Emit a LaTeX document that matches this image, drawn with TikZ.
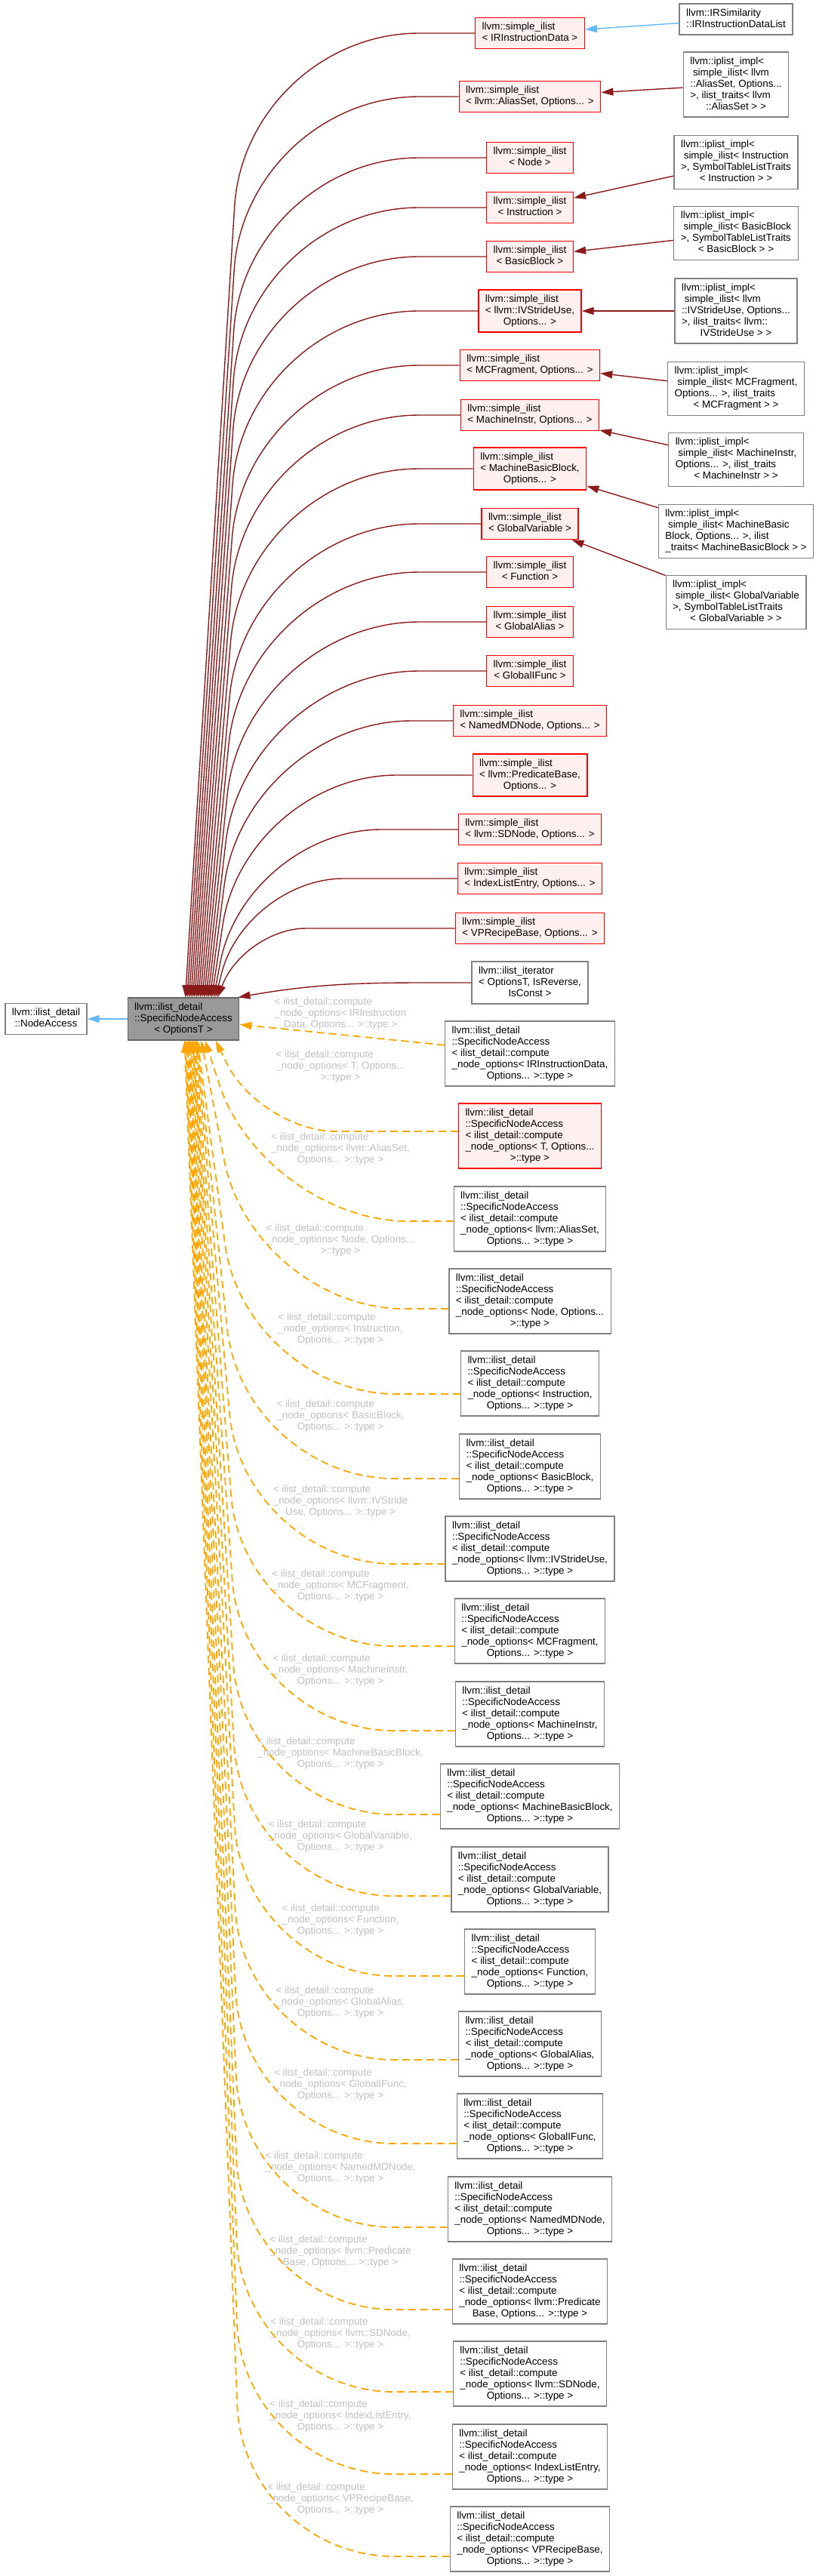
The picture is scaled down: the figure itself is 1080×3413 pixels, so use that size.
\documentclass[tikz,border=0pt]{standalone}
\usepackage{fontspec}
\setmainfont{Liberation Sans}
\usepackage{tikz}
\usetikzlibrary{arrows.meta, calc}
\definecolor{privred}{HTML}{8B1A1A}
\definecolor{pubblue}{HTML}{63B8FF}
\definecolor{tmplorange}{HTML}{FFA500}
\definecolor{lblgray}{HTML}{BFBFBF}
\definecolor{silfill}{HTML}{FFF0F0}
\definecolor{boxgray}{HTML}{808080}
\definecolor{basefill}{HTML}{999999}
\definecolor{basedraw}{HTML}{666666}
\tikzset{
  silbox/.style={rectangle, draw=red, fill=silfill, line width=1.3pt, inner xsep=9pt, inner ysep=5.5pt},
  plainbox/.style={rectangle, draw=boxgray, fill=white, line width=1.3pt, inner xsep=9pt, inner ysep=5.5pt},
  basebox/.style={rectangle, draw=basedraw, fill=basefill, line width=1.3pt, inner xsep=9pt, inner ysep=5.5pt},
  tlabel/.style={text=lblgray, inner sep=0pt},
  privarrow/.style={draw=privred, line width=1.4pt, -{Triangle[length=16pt, width=10pt]}},
  pubarrow/.style={draw=pubblue, line width=1.4pt, -{Triangle[length=16pt, width=10pt]}},
  tmplarrow/.style={draw=tmplorange, line width=1.8pt, dash pattern=on 10pt off 6pt, -{Triangle[length=16pt, width=10pt]}}
}
\newcommand{\dlabel}[2]{\begin{tabular}{@{}l@{}}#1\\\multicolumn{1}{@{}c@{}}{#2}\end{tabular}}
\newcommand{\snah}{llvm::ilist\_detail\\::SpecificNodeAccess\\}
\newcommand{\cno}{< ilist\_detail::compute\\\_node\_options< }

\begin{document}
\begin{tikzpicture}[x=1pt, y=1pt, every node/.style={font=\fontsize{13.4}{15}\selectfont}]
    \useasboundingbox (0,0) rectangle (1080,-3413);

    % ==========================================
    % 1. Base classes
    % ==========================================
    \node[basebox] (sna) at (243,-1350) {\dlabel{llvm::ilist\_detail\\::SpecificNodeAccess}{< OptionsT >}};
    \node[plainbox] (nacc) at (61,-1350) {\dlabel{llvm::ilist\_detail}{::NodeAccess}};

    % ==========================================
    % 2. simple_ilist column
    % ==========================================
    \node[silbox] (sIRD) at (702,-44) {\dlabel{llvm::simple\_ilist}{< IRInstructionData >}};
    \node[silbox] (sAlias) at (702,-128) {\dlabel{llvm::simple\_ilist}{< llvm::AliasSet, Options... >}};
    \node[silbox] (sNode) at (702,-209) {\dlabel{llvm::simple\_ilist}{< Node >}};
    \node[silbox] (sInstr) at (702,-275) {\dlabel{llvm::simple\_ilist}{< Instruction >}};
    \node[silbox] (sBB) at (702,-340) {\dlabel{llvm::simple\_ilist}{< BasicBlock >}};
    \node[silbox] (sIVS) at (702,-412) {\dlabel{llvm::simple\_ilist\\< llvm::IVStrideUse,}{Options... >}};
    \node[silbox] (sMCF) at (702,-484) {\dlabel{llvm::simple\_ilist}{< MCFragment, Options... >}};
    \node[silbox] (sMI) at (702,-550) {\dlabel{llvm::simple\_ilist}{< MachineInstr, Options... >}};
    \node[silbox] (sMBB) at (702,-621) {\dlabel{llvm::simple\_ilist\\< MachineBasicBlock,}{Options... >}};
    \node[silbox] (sGV) at (702,-694) {\dlabel{llvm::simple\_ilist}{< GlobalVariable >}};
    \node[silbox] (sFn) at (702,-758) {\dlabel{llvm::simple\_ilist}{< Function >}};
    \node[silbox] (sGA) at (702,-824) {\dlabel{llvm::simple\_ilist}{< GlobalAlias >}};
    \node[silbox] (sGIF) at (702,-889) {\dlabel{llvm::simple\_ilist}{< GlobalIFunc >}};
    \node[silbox] (sNMD) at (702,-955) {\dlabel{llvm::simple\_ilist}{< NamedMDNode, Options... >}};
    \node[silbox] (sPB) at (702,-1027) {\dlabel{llvm::simple\_ilist\\< llvm::PredicateBase,}{Options... >}};
    \node[silbox] (sSD) at (702,-1099) {\dlabel{llvm::simple\_ilist}{< llvm::SDNode, Options... >}};
    \node[silbox] (sILE) at (702,-1164) {\dlabel{llvm::simple\_ilist}{< IndexListEntry, Options... >}};
    \node[silbox] (sVPR) at (702,-1230) {\dlabel{llvm::simple\_ilist}{< VPRecipeBase, Options... >}};
    \node[plainbox] (iter) at (702,-1302) {\dlabel{llvm::ilist\_iterator\\< OptionsT, IsReverse,}{IsConst >}};

    % ==========================================
    % 3. iplist_impl column
    % ==========================================
    \node[plainbox] (irsim) at (975,-25.5) {\dlabel{llvm::IRSimilarity}{::IRInstructionDataList}};
    \node[plainbox] (pAlias) at (975,-112) {\dlabel{llvm::iplist\_impl<\\\ simple\_ilist< llvm\\::AliasSet, Options...\\>, ilist\_traits< llvm}{::AliasSet > >}};
    \node[plainbox] (pInstr) at (975,-215) {\dlabel{llvm::iplist\_impl<\\\ simple\_ilist< Instruction\\>, SymbolTableListTraits}{< Instruction > >}};
    \node[plainbox] (pBB) at (975,-309) {\dlabel{llvm::iplist\_impl<\\\ simple\_ilist< BasicBlock\\>, SymbolTableListTraits}{< BasicBlock > >}};
    \node[plainbox] (pIVS) at (975,-412) {\dlabel{llvm::iplist\_impl<\\\ simple\_ilist< llvm\\::IVStrideUse, Options...\\>, ilist\_traits< llvm::}{IVStrideUse > >}};
    \node[plainbox] (pMCF) at (975,-515) {\dlabel{llvm::iplist\_impl<\\\ simple\_ilist< MCFragment,\\Options... >, ilist\_traits}{< MCFragment > >}};
    \node[plainbox] (pMI) at (975,-609) {\dlabel{llvm::iplist\_impl<\\\ simple\_ilist< MachineInstr,\\Options... >, ilist\_traits}{< MachineInstr > >}};
    \node[plainbox] (pMBB) at (975,-704) {\dlabel{llvm::iplist\_impl<\\\ simple\_ilist< MachineBasic\\Block, Options... >, ilist}{\_traits< MachineBasicBlock > >}};
    \node[plainbox] (pGV) at (975,-798) {\dlabel{llvm::iplist\_impl<\\\ simple\_ilist< GlobalVariable\\>, SymbolTableListTraits}{< GlobalVariable > >}};

    % ==========================================
    % 4. SpecificNodeAccess instances
    % ==========================================
    \node[plainbox] (aIRD) at (702,-1396) {\dlabel{\snah\cno IRInstructionData,}{Options... >::type >}};
    \node[silbox] (aT) at (702,-1505) {\dlabel{\snah\cno T, Options...}{>::type >}};
    \node[plainbox] (aAlias) at (702,-1615) {\dlabel{\snah\cno llvm::AliasSet,}{Options... >::type >}};
    \node[plainbox] (aNode) at (702,-1724) {\dlabel{\snah\cno Node, Options...}{>::type >}};
    \node[plainbox] (aInstr) at (702,-1833) {\dlabel{\snah\cno Instruction,}{Options... >::type >}};
    \node[plainbox] (aBB) at (702,-1943) {\dlabel{\snah\cno BasicBlock,}{Options... >::type >}};
    \node[plainbox] (aIVS) at (702,-2052) {\dlabel{\snah\cno llvm::IVStrideUse,}{Options... >::type >}};
    \node[plainbox] (aMCF) at (702,-2161) {\dlabel{\snah\cno MCFragment,}{Options... >::type >}};
    \node[plainbox] (aMI) at (702,-2271) {\dlabel{\snah\cno MachineInstr,}{Options... >::type >}};
    \node[plainbox] (aMBB) at (702,-2380) {\dlabel{\snah\cno MachineBasicBlock,}{Options... >::type >}};
    \node[plainbox] (aGV) at (702,-2490) {\dlabel{\snah\cno GlobalVariable,}{Options... >::type >}};
    \node[plainbox] (aFn) at (702,-2599) {\dlabel{\snah\cno Function,}{Options... >::type >}};
    \node[plainbox] (aGA) at (702,-2708) {\dlabel{\snah\cno GlobalAlias,}{Options... >::type >}};
    \node[plainbox] (aGIF) at (702,-2817) {\dlabel{\snah\cno GlobalIFunc,}{Options... >::type >}};
    \node[plainbox] (aNMD) at (702,-2927) {\dlabel{\snah\cno NamedMDNode,}{Options... >::type >}};
    \node[plainbox] (aPB) at (702,-3036) {\dlabel{\snah\cno llvm::Predicate}{Base, Options... >::type >}};
    \node[plainbox] (aSD) at (702,-3145) {\dlabel{\snah\cno llvm::SDNode,}{Options... >::type >}};
    \node[plainbox] (aILE) at (702,-3255) {\dlabel{\snah\cno IndexListEntry,}{Options... >::type >}};
    \node[plainbox] (aVPR) at (702,-3364) {\dlabel{\snah\cno VPRecipeBase,}{Options... >::type >}};

    % Edge labels (template arguments)
    \node[tlabel] (lIRD) at (451,-1343) {\dlabel{\cno IRInstruction}{Data, Options... >::type >}};
    \node[tlabel] (lT) at (451,-1413) {\dlabel{\cno T, Options...}{>::type >}};
    \node[tlabel] (lAlias) at (451,-1522) {\dlabel{\cno llvm::AliasSet,}{Options... >::type >}};
    \node[tlabel] (lNode) at (451,-1643) {\dlabel{\cno Node, Options...}{>::type >}};
    \node[tlabel] (lInstr) at (451,-1761) {\dlabel{\cno Instruction,}{Options... >::type >}};
    \node[tlabel] (lBB) at (451,-1876) {\dlabel{\cno BasicBlock,}{Options... >::type >}};
    \node[tlabel] (lIVS) at (451,-1989) {\dlabel{\cno llvm::IVStride}{Use, Options... >::type >}};
    \node[tlabel] (lMCF) at (451,-2101) {\dlabel{\cno MCFragment,}{Options... >::type >}};
    \node[tlabel] (lMI) at (451,-2213) {\dlabel{\cno MachineInstr,}{Options... >::type >}};
    \node[tlabel] (lMBB) at (451,-2323) {\dlabel{\cno MachineBasicBlock,}{Options... >::type >}};
    \node[tlabel] (lGV) at (451,-2433) {\dlabel{\cno GlobalVariable,}{Options... >::type >}};
    \node[tlabel] (lFn) at (451,-2544) {\dlabel{\cno Function,}{Options... >::type >}};
    \node[tlabel] (lGA) at (451,-2653) {\dlabel{\cno GlobalAlias,}{Options... >::type >}};
    \node[tlabel] (lGIF) at (451,-2762) {\dlabel{\cno GlobalIFunc,}{Options... >::type >}};
    \node[tlabel] (lNMD) at (451,-2872) {\dlabel{\cno NamedMDNode,}{Options... >::type >}};
    \node[tlabel] (lPB) at (451,-2983) {\dlabel{\cno llvm::Predicate}{Base, Options... >::type >}};
    \node[tlabel] (lSD) at (451,-3092) {\dlabel{\cno llvm::SDNode,}{Options... >::type >}};
    \node[tlabel] (lILE) at (451,-3201) {\dlabel{\cno IndexListEntry,}{Options... >::type >}};
    \node[tlabel] (lVPR) at (451,-3311) {\dlabel{\cno VPRecipeBase,}{Options... >::type >}};

    % ==========================================
    % 5. Connectors
    % ==========================================
    \draw[pubarrow] (irsim) -- (sIRD);
    \draw[pubarrow] (sna) -- (nacc);

    % iplist_impl -> simple_ilist
    \foreach \p/\s in {pAlias/sAlias, pInstr/sInstr, pBB/sBB, pIVS/sIVS, pMCF/sMCF, pMI/sMI, pMBB/sMBB, pGV/sGV} {
        \draw[privarrow] (\p) -- (\s);
    }

    % simple_ilist -> SpecificNodeAccess (top)
    \coordinate (rk) at (325,0);
    \foreach \n/\ex/\r in {sIRD/77/230, sAlias/79.5/230, sNode/82/230, sInstr/84.5/230,
        sBB/87/230, sIVS/89.5/230, sMCF/92/230, sMI/94.5/230, sMBB/97/230, sGV/99.5/230,
        sFn/102/230, sGA/104.5/230, sGIF/107/230, sNMD/109.5/220, sPB/112/200,
        sSD/114.5/180, sILE/117/130, sVPR/119.5/80} {
        \draw[privarrow, rounded corners=\r pt] (\n.west) -- (\n.west -| rk) -- ([xshift=\ex pt]sna.north west);
    }
    \draw[privarrow] (iter.west) to[out=180, in=10] ([xshift=-2pt]sna.north east);

    % SpecificNodeAccess instances -> SpecificNodeAccess (bottom)
    \draw[tmplarrow] (aIRD) -- (sna);
    \foreach \n/\dy/\cx/\ex/\r in {aT/6/345/117/100, aAlias/-3/350/103/190, aNode/-10/335/98/200,
        aInstr/-14/325/93/200, aBB/-16/322/92/200, aIVS/-20/322/91/200, aMCF/-20/322/89.5/200,
        aMI/-22/322/88/200, aMBB/-24/322/87/200, aGV/-22/322/86/200, aFn/-19/322/84.5/200,
        aGA/-21/322/83/200, aGIF/-23/322/82/200, aNMD/-24/322/81/200, aPB/-24/322/79.5/200,
        aSD/-24/322/78.5/200, aILE/-23/322/77/200, aVPR/-23/322/76/200} {
        \coordinate (tst) at ([yshift=\dy pt]\n.west);
        \coordinate (tk) at (\cx,0);
        \draw[tmplarrow, rounded corners=\r pt] (tst) -- (tst -| tk) -- ([xshift=\ex pt]sna.south west);
    }

\end{tikzpicture}
\end{document}
